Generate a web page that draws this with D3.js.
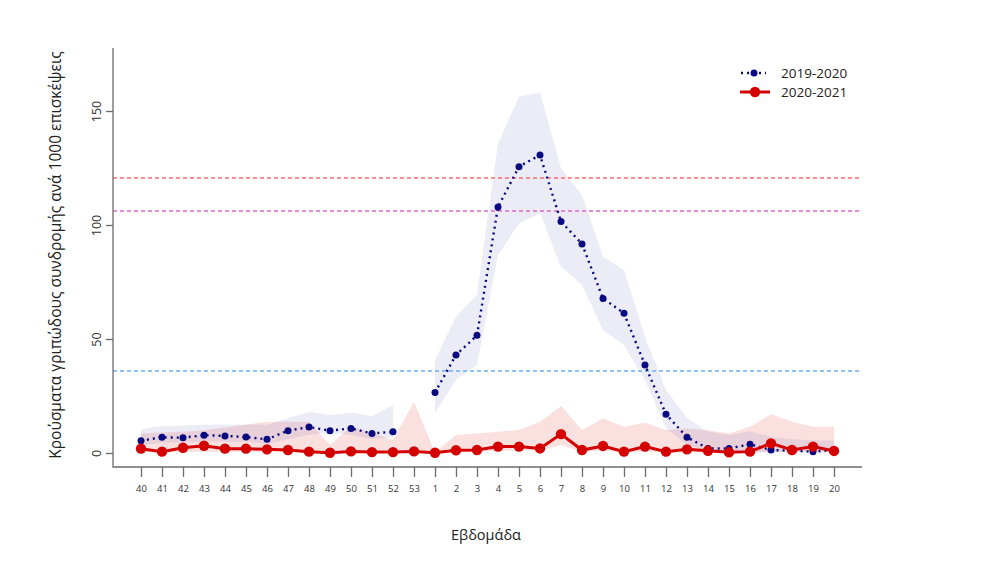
<!DOCTYPE html>
<html><head><meta charset="utf-8">
<script src="https://cdn.jsdelivr.net/npm/d3@7"></script>
<style>body{margin:0;background:#fff}svg{display:block}text{font-family:"Open Sans",sans-serif}</style>
</head><body>
<svg id="c" width="996" height="586"></svg>
<script>
const weeks = ["40","41","42","43","44","45","46","47","48","49","50","51","52","53","1","2","3","4","5","6","7","8","9","10","11","12","13","14","15","16","17","18","19","20"];
const s1920 = [5.4,6.9,6.7,7.8,7.5,7.0,6.0,9.8,11.4,9.8,10.8,8.6,9.3,null,26.5,43.0,51.6,107.9,125.6,130.7,101.5,91.7,67.8,61.3,38.6,17.0,6.9,2.0,2.0,3.8,1.3,1.0,0.6,1.3];
const s1920Hi = [10.5,11.8,12.1,12.4,12.5,12.4,12.4,15.2,18.1,16.7,17.7,16.2,21.0,null,40.8,59.8,69.3,135.8,156.3,158.0,124.9,113.2,86.1,80.3,51.0,27.6,15.3,9.4,7.9,9.5,7.0,6.0,5.5,5.5];
const s1920Lo = [3.5,4.5,4.5,5.0,5.0,5.0,4.0,6.0,8.0,8.8,8.0,6.0,7.0,null,17.5,32.0,38.6,86.8,100.7,105.1,81.7,73.7,53.9,47.4,32.0,11.0,3.5,1.0,0.5,0.5,0.3,0.3,0.3,0.3];
const s2021 = [1.9,0.6,2.3,3.2,1.9,1.9,1.6,1.3,0.6,0.1,0.7,0.4,0.4,0.7,0.1,1.2,1.3,2.8,2.8,2.0,8.3,1.3,3.1,0.6,2.8,0.6,1.6,1.0,0.3,0.6,4.2,1.3,2.8,0.9];
const s2021Hi = [8.6,9.0,9.3,10.0,11.2,12.5,13.7,13.7,13.7,3.5,11.5,8.8,5.7,22.5,0.3,7.9,8.6,9.3,10.1,13.7,20.6,10.1,15.2,11.5,13.3,10.1,10.8,10.0,8.6,11.5,17.0,13.7,11.5,11.5];
const s2021Lo = [0.5,0.3,0.5,0.5,0.5,0.5,0.5,0.5,0.3,0,0.3,0,0,0,0,0.3,0.5,1.0,1.0,1.0,3.5,0.5,1.0,0.3,0.5,0.3,0.3,0.3,0,0,0.5,0.3,0.5,0.3];
const thresholds = [{v:120.6,c:"#ff6a6a"},{v:106.1,c:"#e068c8"},{v:36.0,c:"#6aaef8"}];
const yTicks = [0,50,100,150];
const legendLabels = ["2019-2020","2020-2021"];

const svg = d3.select("#c");
const x = d3.scalePoint().domain(weeks).range([141,834]);
const y = d3.scaleLinear().domain([0,150]).range([453,111]);
const rows = weeks.map((w,i)=>({w, a:s1920[i], ah:s1920Hi[i], al:s1920Lo[i], b:s2021[i], bh:s2021Hi[i], bl:s2021Lo[i]}));

// bands
svg.append("path").datum(rows)
  .attr("d", d3.area().x(d=>x(d.w)).y0(d=>y(d.bl)).y1(d=>y(d.bh)))
  .attr("fill","rgba(230,60,60,0.16)");
svg.append("path").datum(rows)
  .attr("d", d3.area().defined(d=>d.ah!=null).x(d=>x(d.w)).y0(d=>y(d.al)).y1(d=>y(d.ah)))
  .attr("fill","rgba(70,70,170,0.10)");

// threshold lines
thresholds.forEach(t=>{
  svg.append("line").attr("x1",113).attr("x2",862).attr("y1",y(t.v)).attr("y2",y(t.v))
    .attr("stroke",t.c).attr("stroke-width",1.5).attr("stroke-dasharray","4,3");
});

// axes box
const axCol = "#6b6b6b";
svg.append("path").attr("d",`M113,48V467H862`).attr("fill","none").attr("stroke",axCol).attr("stroke-width",1.3);
const yAx = svg.append("g").attr("transform","translate(113,0)")
  .call(d3.axisLeft(y).tickValues(yTicks).tickSize(7).tickFormat(d3.format("d")));
yAx.select(".domain").remove();
yAx.selectAll("line").attr("stroke",axCol).attr("stroke-width",1.3);
yAx.selectAll("text").attr("font-size",12.5).attr("fill","#333")
  .attr("x",null).attr("dy",null).attr("y",null)
  .attr("transform","translate(-12,0) rotate(-90)")
  .attr("text-anchor","middle");
const xAx = svg.append("g").attr("transform","translate(0,467)")
  .call(d3.axisBottom(x).tickSize(10).tickPadding(8));
xAx.select(".domain").remove();
xAx.selectAll("line").attr("stroke",axCol).attr("stroke-width",1.3);
xAx.selectAll("text").attr("font-size",9.5).attr("fill","#333");

// titles
svg.append("text").attr("x",486).attr("y",540).attr("text-anchor","middle").attr("font-size",14.5).attr("fill","#222").text("Εβδομάδα");
svg.append("text").attr("transform","translate(61,255) rotate(-90)").attr("text-anchor","middle").attr("font-size",15.5).attr("fill","#222")
  .text("Κρούσματα γριπώδους συνδρομής ανά 1000 επισκέψεις");

// series 2019-2020
const blue = "#0a0a80", red = "#d40000";
svg.append("path").datum(rows)
  .attr("d", d3.line().defined(d=>d.a!=null).x(d=>x(d.w)).y(d=>y(d.a)))
  .attr("fill","none").attr("stroke",blue).attr("stroke-width",2.4).attr("stroke-dasharray","2,4");
svg.append("g").selectAll("circle").data(rows.filter(d=>d.a!=null)).join("circle")
  .attr("cx",d=>x(d.w)).attr("cy",d=>y(d.a)).attr("r",3.5).attr("fill",blue);

// series 2020-2021
svg.append("path").datum(rows)
  .attr("d", d3.line().x(d=>x(d.w)).y(d=>y(d.b)))
  .attr("fill","none").attr("stroke",red).attr("stroke-width",3);
svg.append("g").selectAll("circle").data(rows).join("circle")
  .attr("cx",d=>x(d.w)).attr("cy",d=>y(d.b)).attr("r",5.2).attr("fill",red);

// legend
const lg = svg.append("g");
lg.append("line").attr("x1",741).attr("x2",766).attr("y1",73).attr("y2",73).attr("stroke",blue).attr("stroke-width",2.4).attr("stroke-dasharray","2,4");
lg.append("circle").attr("cx",754).attr("cy",73).attr("r",3.5).attr("fill",blue);
lg.append("line").attr("x1",740).attr("x2",770).attr("y1",92).attr("y2",92).attr("stroke",red).attr("stroke-width",3);
lg.append("circle").attr("cx",755).attr("cy",92).attr("r",5.2).attr("fill",red);
lg.selectAll("text.l").data(legendLabels).join("text").attr("class","l")
  .attr("x",781).attr("y",(d,i)=>73+i*19).attr("dy","0.35em").attr("font-size",13.5).attr("fill","#222").text(d=>d);
</script>
</body></html>
